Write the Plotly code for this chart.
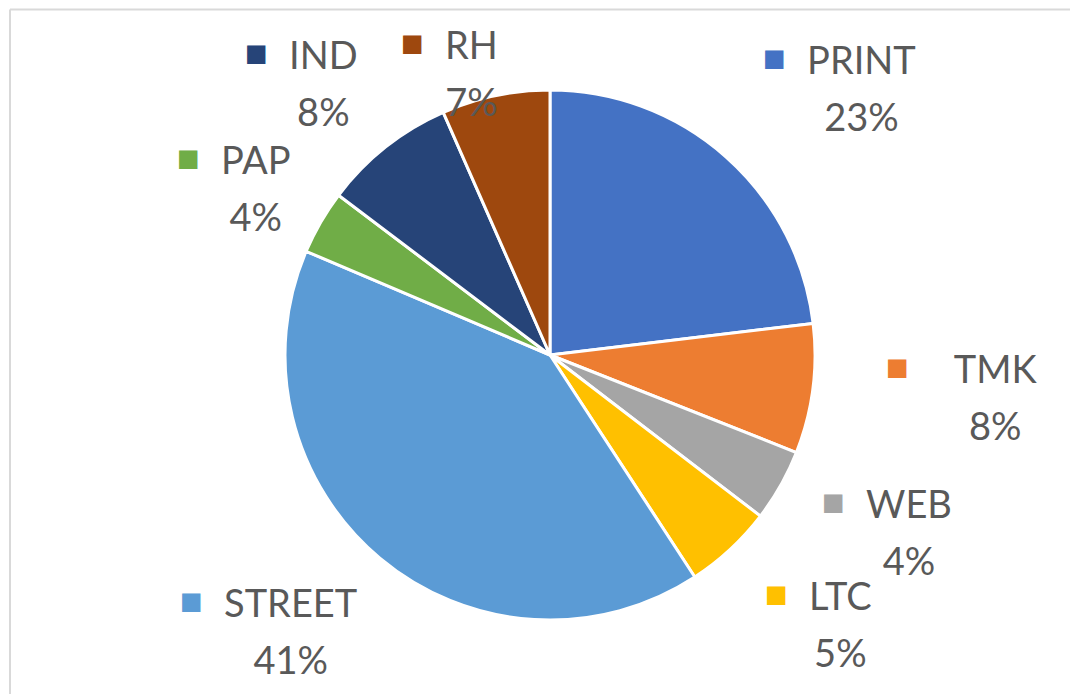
import math
import plotly.graph_objects as go

# ---- data ----
categories = ["PRINT", "TMK", "WEB", "LTC", "STREET", "PAP", "IND", "RH"]
shares = [23.1, 7.9, 4.4, 5.4, 40.6, 3.9, 8.1, 6.6]
colors = ["#4472C4", "#ED7D31", "#A5A5A5", "#FFC000", "#5B9BD5", "#70AD47", "#264478", "#9E480E"]

# ---- layout constants (page body margin removed by post_script) ----
W, H = 1070, 694
CX, CY, R = 550, 355, 265               # pie centre / radius in px
LABEL_R = 1.45 * R                      # base radial distance of labels
# pixel nudges of each label from its base radial position (layout only)
label_nudges = [(56, 20), (66, -8), (24, -13), (29, -13), (-13, -19), (38, 25), (11, 29), (0, 94)]
# extra space between colour key and name (layout only)
key_extra = [0, 1, 0, 0, 0, 0, 0, 0]
TEXT_COLOR = "#595959"
FONT = "Lato"
FS = 38            # glyph size
LINE_FS = 44       # sets the line pitch (1.3 * 44 ~ 57 px)
KEY_W = 43         # width of colour key + gap in front of each name
EXTRA_W = 26.6     # width of one extra gap unit

fig = go.Figure(go.Pie(
    labels=categories,
    values=shares,
    sort=False,
    direction="clockwise",
    rotation=0,
    marker=dict(colors=colors, line=dict(color="white", width=3)),
    textinfo="none",
    hoverinfo="label+percent",
    showlegend=False,
    domain=dict(x=[(CX - R) / W, (CX + R) / W], y=[1 - (CY + R) / H, 1 - (CY - R) / H]),
))


def sq(c):
    return (f"<span style='font-family:DejaVu Sans;font-size:24px;color:{c};"
            f"baseline-shift:8px'>■</span>")


GAP = "\u2002\u200a"
EXTRA = "\u2002\u2009"
total = sum(shares)
cum = 0.0
annotations = []
for name, v, c, (nx, ny), ex in zip(categories, shares, colors, label_nudges, key_extra):
    mid = (cum + v / 2) / total * 2 * math.pi
    cum += v
    px = CX + LABEL_R * math.sin(mid) + nx
    py = CY - LABEL_R * math.cos(mid) + ny
    pct = f"{round(v / total * 100)}%"
    gap = GAP + EXTRA * ex
    line1 = f"<span style='font-size:{FS}px'>{sq(c)}{gap}{name}</span>"
    line2 = f"<span style='font-size:{FS}px'>{sq('rgba(0,0,0,0)')}{gap}{pct}</span>"
    annotations.append(dict(
        x=px / W, y=1 - py / H, xref="paper", yref="paper", showarrow=False,
        xanchor="center", yanchor="middle", align="center",
        xshift=-(KEY_W + EXTRA_W * ex) / 2,
        text=line1 + "<br>" + line2,
        font=dict(family=FONT, size=LINE_FS, color=TEXT_COLOR)))

shapes = [
    dict(type="line", xref="paper", yref="paper", x0=10 / W, x1=1, y0=1 - 9.5 / H, y1=1 - 9.5 / H,
         line=dict(color="#D9D9D9", width=2)),
    dict(type="line", xref="paper", yref="paper", x0=10 / W, x1=10 / W, y0=0, y1=1 - 9.5 / H,
         line=dict(color="#D9D9D9", width=2)),
]

fig.update_layout(
    width=W, height=H,
    margin=dict(l=0, r=0, t=0, b=0),
    paper_bgcolor="white", plot_bgcolor="white",
    annotations=annotations, shapes=shapes,
)

fig.write_html("out.html", config={"displayModeBar": False},
               post_script="document.body.style.margin='0px';")
